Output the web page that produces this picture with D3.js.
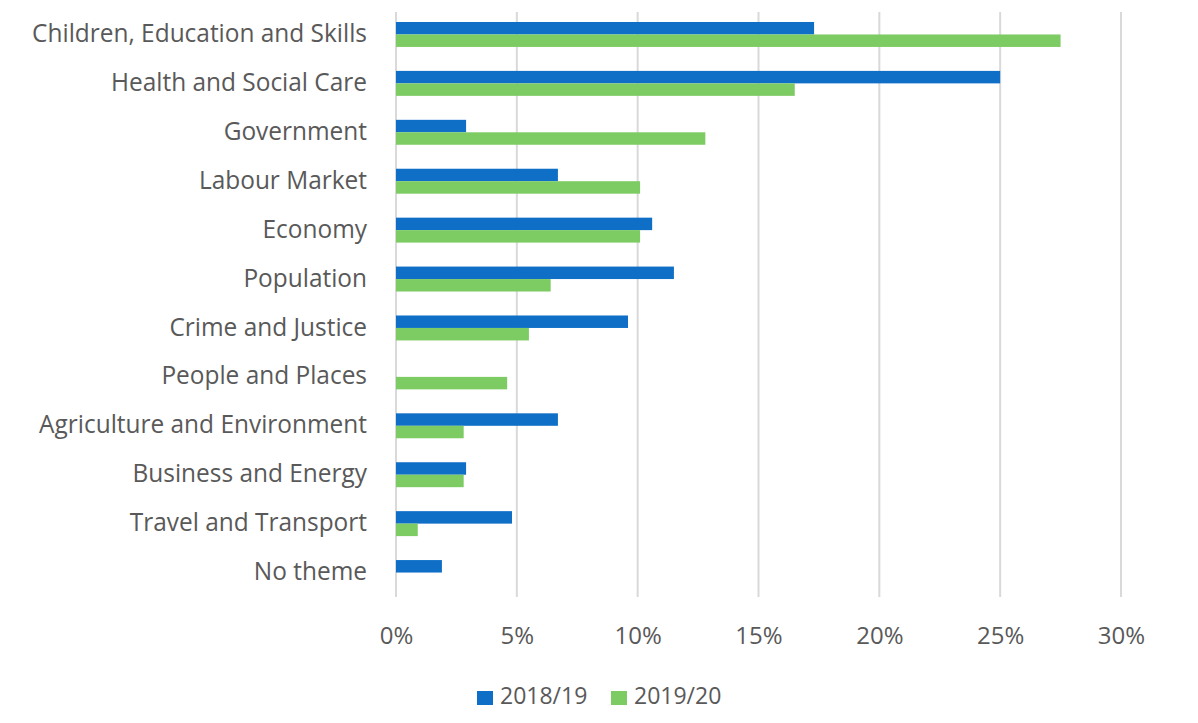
<!DOCTYPE html>
<html>
<head>
<meta charset="utf-8">
<script src="https://cdn.jsdelivr.net/npm/d3@7"></script>
<style>
  html, body { margin: 0; padding: 0; background: #ffffff; }
  svg { display: block; }
  text { font-family: "Open Sans", "Noto Sans", sans-serif; fill: #595959; }
</style>
</head>
<body>
<svg id="chart" width="1198" height="723"></svg>
<script>
const categories = [
  "Children, Education and Skills",
  "Health and Social Care",
  "Government",
  "Labour Market",
  "Economy",
  "Population",
  "Crime and Justice",
  "People and Places",
  "Agriculture and Environment",
  "Business and Energy",
  "Travel and Transport",
  "No theme"
];
const series2018 = [17.3, 25.0, 2.9, 6.7, 10.6, 11.5, 9.6, 0, 6.7, 2.9, 4.8, 1.9];
const series2019 = [27.5, 16.5, 12.8, 10.1, 10.1, 6.4, 5.5, 4.6, 2.8, 2.8, 0.9, 0];
const seriesNames = ["2018/19", "2019/20"];
const seriesColors = ["#0F6FC6", "#7DCB63"];
const xTicks = [0, 5, 10, 15, 20, 25, 30];

const svg = d3.select("#chart");
const x = d3.scaleLinear().domain([0, 30]).range([396, 1121]);
const y = d3.scaleBand().domain(categories).range([10, 597])
  .paddingInner(0.49).paddingOuter(0.245);
const sub = d3.scaleBand().domain(seriesNames).range([0, y.bandwidth()]);

// gridlines
svg.append("g").selectAll("line").data(xTicks).join("line")
  .attr("x1", d => x(d)).attr("x2", d => x(d))
  .attr("y1", 12).attr("y2", 597)
  .attr("stroke", "#D9D9D9").attr("stroke-width", 2);

// bars
const data = categories.map((c, i) => ({ c, v: [series2018[i], series2019[i]] }));
const groups = svg.append("g").selectAll("g").data(data).join("g")
  .attr("transform", d => `translate(0,${y(d.c)})`);
groups.selectAll("rect").data(d => d.v.map((v, j) => ({ v, s: seriesNames[j], j })))
  .join("rect")
  .attr("x", x(0))
  .attr("y", d => sub(d.s))
  .attr("width", d => x(d.v) - x(0))
  .attr("height", sub.bandwidth())
  .attr("fill", d => seriesColors[d.j]);

// category labels
const yAxis = d3.axisLeft(y).tickSize(0).tickPadding(0);
const ya = svg.append("g").attr("transform", "translate(367,0) scale(0.94,1)").call(yAxis);
ya.select(".domain").remove();
ya.selectAll("text").style("font-size", "26px").attr("fill", "#5f5f5f")
  .attr("dy", "0.29em").style("font-family", "'Open Sans', sans-serif");

// x axis labels
const xAxis = d3.axisBottom(x).tickValues(xTicks).tickFormat(d => d + "%").tickSize(0).tickPadding(0);
const xa = svg.append("g").attr("transform", "translate(0,627)").call(xAxis);
xa.select(".domain").remove();
xa.selectAll("text").style("font-size", "24px").attr("fill", "#5f5f5f")
  .style("font-family", "'Open Sans', sans-serif");

// legend
const legendX = [477, 611];
const lg = svg.append("g").selectAll("g").data(seriesNames).join("g")
  .attr("transform", (d, i) => `translate(${legendX[i]},691)`);
lg.append("rect").attr("width", 16).attr("height", 14).attr("fill", (d, i) => seriesColors[i]);
lg.append("text").attr("x", 23).attr("y", 13)
  .attr("fill", "#5f5f5f")
  .style("font-size", "23px").text(d => d);
</script>
</body>
</html>
